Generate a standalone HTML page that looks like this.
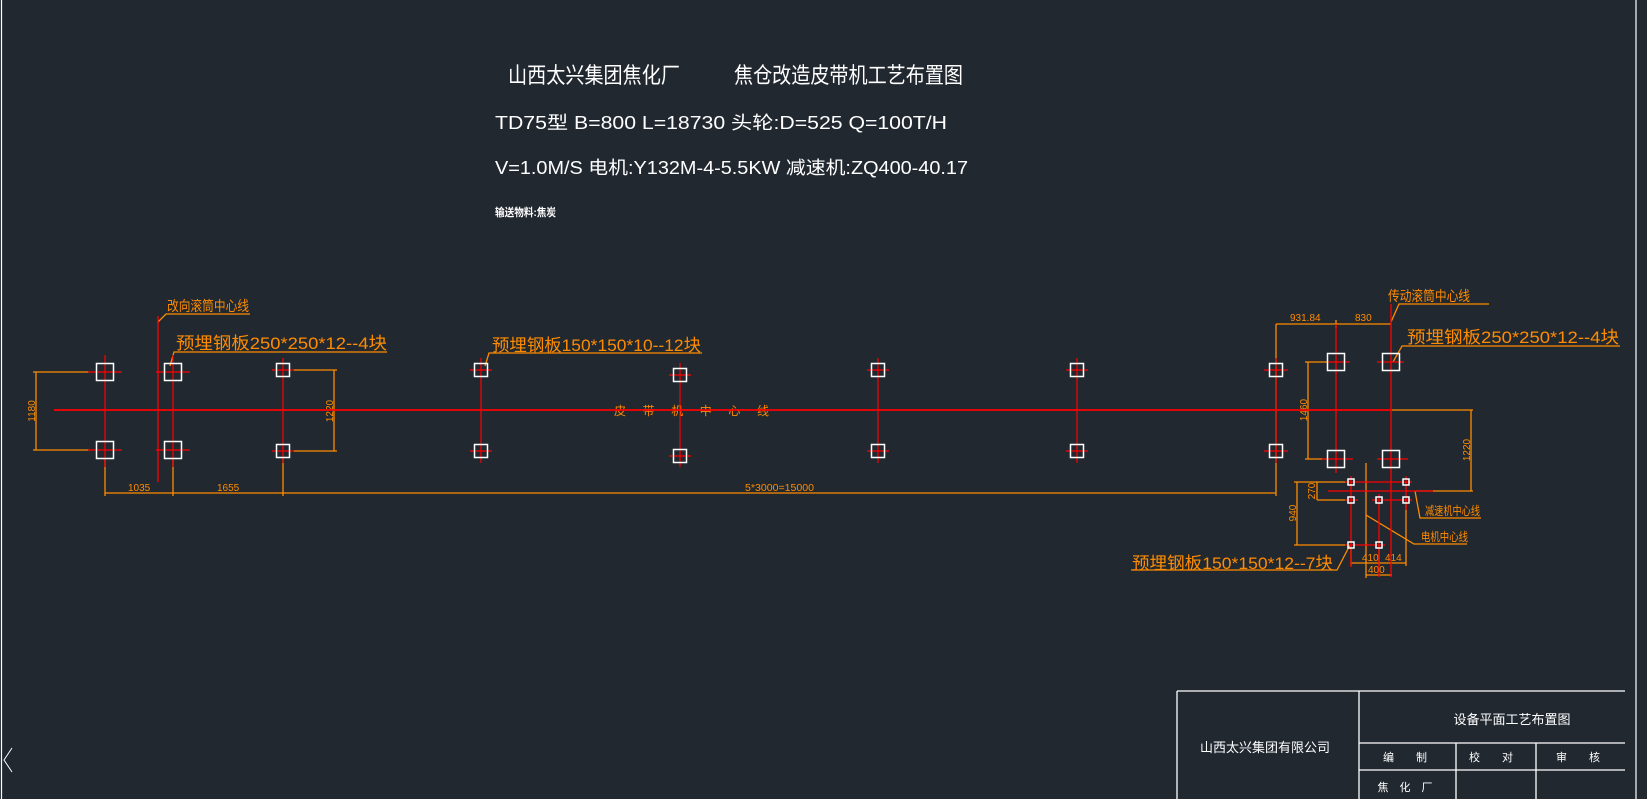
<!DOCTYPE html>
<html><head><meta charset="utf-8"><style>
html,body{margin:0;padding:0;background:#212830;}
svg{display:block}
text{font-family:"Liberation Sans","Noto Sans CJK SC",sans-serif;}
</style></head><body>
<svg width="1647" height="799" viewBox="0 0 1647 799" xmlns="http://www.w3.org/2000/svg">
<rect width="1647" height="799" fill="#212830"/>
<!-- borders -->
<line x1="1.5" y1="0" x2="1.5" y2="799" stroke="#fff" stroke-width="1.2"/>
<line x1="1636" y1="0" x2="1636" y2="799" stroke="#fff" stroke-width="1.2"/>
<polyline points="12,748 4,760 12,772" fill="none" stroke="#fff" stroke-width="1"/>

<!-- header -->
<g fill="#fff">
<text x="508" y="83" font-size="22" textLength="172" lengthAdjust="spacingAndGlyphs">山西太兴集团焦化厂</text>
<text x="734" y="83" font-size="22" textLength="229" lengthAdjust="spacingAndGlyphs">焦仓改造皮带机工艺布置图</text>
<text x="495" y="129" font-size="18" textLength="452" lengthAdjust="spacingAndGlyphs">TD75型 B=800 L=18730 头轮:D=525 Q=100T/H</text>
<text x="495" y="174" font-size="18" textLength="473" lengthAdjust="spacingAndGlyphs">V=1.0M/S 电机:Y132M-4-5.5KW 减速机:ZQ400-40.17</text>
<text x="495" y="216" font-size="11" font-weight="bold" textLength="61" lengthAdjust="spacingAndGlyphs">输送物料:焦炭</text>
</g>

<!-- orange dims -->
<g stroke="#ff8c00" stroke-width="1.3" fill="none">
<!-- 1180 -->
<line x1="33" y1="372" x2="90" y2="372"/><line x1="33" y1="450" x2="90" y2="450"/>
<line x1="36" y1="372" x2="36" y2="450"/>
<!-- 1220 left -->
<line x1="293" y1="370" x2="337" y2="370"/><line x1="293" y1="451" x2="337" y2="451"/>
<line x1="334" y1="370" x2="334" y2="451"/>
<!-- bottom dim -->
<line x1="105" y1="493" x2="1276" y2="493"/>
<line x1="105" y1="458" x2="105" y2="496"/>
<line x1="173" y1="458" x2="173" y2="496"/>
<line x1="283" y1="457" x2="283" y2="496"/>
<line x1="1276" y1="324" x2="1276" y2="496"/>
<!-- top right dim -->
<line x1="1276" y1="324" x2="1391" y2="324"/>
<line x1="1336" y1="320" x2="1336" y2="328"/>
<!-- 1460 -->
<line x1="1305" y1="362" x2="1328" y2="362"/><line x1="1305" y1="459" x2="1328" y2="459"/>
<line x1="1308" y1="362" x2="1308" y2="459"/>
<!-- 1220 right -->
<line x1="1392" y1="410" x2="1473" y2="410"/>
<line x1="1471" y1="410" x2="1471" y2="491"/>
<line x1="1416" y1="491" x2="1473" y2="491"/>
<!-- 270/940 -->
<line x1="1294" y1="482" x2="1348" y2="482"/>
<line x1="1317" y1="500" x2="1348" y2="500"/>
<line x1="1294" y1="545" x2="1348" y2="545"/>
<line x1="1317" y1="482" x2="1317" y2="500"/>
<line x1="1297" y1="482" x2="1297" y2="545"/>
<!-- 410/414/400 -->
<line x1="1351" y1="563" x2="1406" y2="563"/>
<line x1="1351" y1="545" x2="1351" y2="566"/>
<line x1="1379" y1="545" x2="1379" y2="566"/>
<line x1="1406" y1="500" x2="1406" y2="566"/>
<line x1="1366" y1="575" x2="1392" y2="575"/>
<line x1="1366" y1="463" x2="1366" y2="578"/>
<!-- labels leaders -->
<polyline points="158,322 166,314 250,314"/>
<polyline points="170,366 174,352 387,352"/>
<polyline points="485,366 489,353 702,353"/>
<polyline points="1391,322 1399,304 1489,304"/>
<polyline points="1393,362 1402,346 1620,346"/>
<polyline points="1415,491 1420,518 1481,518"/>
<polyline points="1366,515 1414,544 1467,544"/>
<polyline points="1350,545 1337,570 1131,570"/>
</g>

<!-- orange texts -->
<g fill="#ff8c00">
<text x="167" y="311" font-size="14" textLength="82" lengthAdjust="spacingAndGlyphs">改向滚筒中心线</text>
<text x="176" y="349" font-size="17" textLength="211" lengthAdjust="spacingAndGlyphs">预埋钢板250*250*12--4块</text>
<text x="492" y="351" font-size="17" textLength="209" lengthAdjust="spacingAndGlyphs">预埋钢板150*150*10--12块</text>
<text x="1388" y="301" font-size="14" textLength="82" lengthAdjust="spacingAndGlyphs">传动滚筒中心线</text>
<text x="1407" y="343" font-size="17" textLength="212" lengthAdjust="spacingAndGlyphs">预埋钢板250*250*12--4块</text>
<text x="1132" y="569" font-size="17" textLength="201" lengthAdjust="spacingAndGlyphs">预埋钢板150*150*12--7块</text>
<text x="1425" y="515" font-size="12" textLength="55" lengthAdjust="spacingAndGlyphs">减速机中心线</text>
<text x="1421" y="541" font-size="12" textLength="47" lengthAdjust="spacingAndGlyphs">电机中心线</text>
<text x="614" y="415" font-size="12" textLength="155" lengthAdjust="spacing">皮带机中心线</text>
<text x="128" y="491" font-size="10">1035</text>
<text x="217" y="491" font-size="10">1655</text>
<text x="745" y="491" font-size="10" textLength="69" lengthAdjust="spacingAndGlyphs">5*3000=15000</text>
<text x="1290" y="321" font-size="10">931.84</text>
<text x="1355" y="321" font-size="10">830</text>
<text x="1362" y="561" font-size="10">410</text>
<text x="1385" y="561" font-size="10">414</text>
<text x="1368" y="573" font-size="10">400</text>
<text transform="translate(35,411) rotate(-90)" font-size="10" text-anchor="middle">1180</text>
<text transform="translate(333,411) rotate(-90)" font-size="10" text-anchor="middle">1220</text>
<text transform="translate(1307,410) rotate(-90)" font-size="10" text-anchor="middle">1460</text>
<text transform="translate(1470,450) rotate(-90)" font-size="10" text-anchor="middle">1220</text>
<text transform="translate(1315,491) rotate(-90)" font-size="10" text-anchor="middle">270</text>
<text transform="translate(1296,513) rotate(-90)" font-size="10" text-anchor="middle">940</text>
</g>

<!-- red lines -->
<g stroke="#ff0000" stroke-width="1.3" fill="none">
<line x1="54" y1="410" x2="1392" y2="410" stroke-width="1.8"/>
<line x1="158" y1="316" x2="158" y2="482"/>
<line x1="1391" y1="304" x2="1391" y2="577"/>
<line x1="1336" y1="324" x2="1336" y2="473"/>
<line x1="1328" y1="491" x2="1433" y2="491"/>
<line x1="1345" y1="482" x2="1412" y2="482"/>
<line x1="1345" y1="500" x2="1358" y2="500"/>
<line x1="1372" y1="500" x2="1412" y2="500"/>
<line x1="1345" y1="545" x2="1385" y2="545"/>
<line x1="1351" y1="476" x2="1351" y2="567"/>
<line x1="1406" y1="476" x2="1406" y2="510"/>
<line x1="1379" y1="494" x2="1379" y2="577"/>
</g>

<!-- columns -->
<g id="cols">
<!-- x, top, bottom, size -->
</g>
<g stroke="#ff0000" stroke-width="1.2">
<line x1="105" y1="355" x2="105" y2="467"/><line x1="88" y1="372" x2="122" y2="372"/><line x1="88" y1="450" x2="122" y2="450"/>
<line x1="173" y1="355" x2="173" y2="467"/><line x1="156" y1="372" x2="190" y2="372"/><line x1="156" y1="450" x2="190" y2="450"/>
<line x1="283" y1="358" x2="283" y2="463"/><line x1="272" y1="370" x2="294" y2="370"/><line x1="272" y1="451" x2="294" y2="451"/>
<line x1="481" y1="358" x2="481" y2="463"/><line x1="470" y1="370" x2="492" y2="370"/><line x1="470" y1="451" x2="492" y2="451"/>
<line x1="680" y1="363" x2="680" y2="467"/><line x1="669" y1="375" x2="691" y2="375"/><line x1="669" y1="456" x2="691" y2="456"/>
<line x1="878" y1="358" x2="878" y2="463"/><line x1="867" y1="370" x2="889" y2="370"/><line x1="867" y1="451" x2="889" y2="451"/>
<line x1="1077" y1="358" x2="1077" y2="463"/><line x1="1066" y1="370" x2="1088" y2="370"/><line x1="1066" y1="451" x2="1088" y2="451"/>
<line x1="1276" y1="358" x2="1276" y2="463"/><line x1="1264" y1="370" x2="1288" y2="370"/><line x1="1264" y1="451" x2="1288" y2="451"/>
<line x1="1328" y1="362" x2="1350" y2="362"/><line x1="1322" y1="459" x2="1353" y2="459"/>
<line x1="1377" y1="362" x2="1404" y2="362"/><line x1="1377" y1="459" x2="1408" y2="459"/>
</g>
<g stroke="#fff" stroke-width="1.5" fill="none">
<rect x="96.5" y="363.5" width="17" height="17"/><rect x="96.5" y="441.5" width="17" height="17"/>
<rect x="164.5" y="363.5" width="17" height="17"/><rect x="164.5" y="441.5" width="17" height="17"/>
<rect x="276.5" y="363.5" width="13" height="13"/><rect x="276.5" y="444.5" width="13" height="13"/>
<rect x="474.5" y="363.5" width="13" height="13"/><rect x="474.5" y="444.5" width="13" height="13"/>
<rect x="673.5" y="368.5" width="13" height="13"/><rect x="673.5" y="449.5" width="13" height="13"/>
<rect x="871.5" y="363.5" width="13" height="13"/><rect x="871.5" y="444.5" width="13" height="13"/>
<rect x="1070.5" y="363.5" width="13" height="13"/><rect x="1070.5" y="444.5" width="13" height="13"/>
<rect x="1269.5" y="363.5" width="13" height="13"/><rect x="1269.5" y="444.5" width="13" height="13"/>
<rect x="1327.5" y="353.5" width="17" height="17"/><rect x="1327.5" y="450.5" width="17" height="17"/>
<rect x="1382.5" y="353.5" width="17" height="17"/><rect x="1382.5" y="450.5" width="17" height="17"/>
<rect x="1348" y="479" width="6" height="6"/><rect x="1403" y="479" width="6" height="6"/>
<rect x="1348" y="497" width="6" height="6"/><rect x="1376" y="497" width="6" height="6"/><rect x="1403" y="497" width="6" height="6"/>
<rect x="1348" y="542" width="6" height="6"/><rect x="1376" y="542" width="6" height="6"/>
</g>

<!-- title block -->
<g stroke="#fff" stroke-width="1.3" fill="none">
<line x1="1177" y1="691" x2="1625" y2="691"/>
<line x1="1177" y1="691" x2="1177" y2="799"/>
<line x1="1359" y1="691" x2="1359" y2="799"/>
<line x1="1359" y1="743" x2="1625" y2="743"/>
<line x1="1359" y1="770" x2="1625" y2="770"/>
<line x1="1456" y1="743" x2="1456" y2="799"/>
<line x1="1536" y1="743" x2="1536" y2="799"/>
</g>
<g fill="#fff" font-size="13" text-anchor="middle">
<text x="1265" y="752">山西太兴集团有限公司</text>
<text x="1512" y="724">设备平面工艺布置图</text>
<text x="1405" y="761" font-size="11">编　　制</text>
<text x="1491" y="761" font-size="11">校　　对</text>
<text x="1578" y="761" font-size="11">审　　核</text>
<text x="1405" y="791" font-size="11">焦　化　厂</text>
</g>
</svg>
</body></html>
